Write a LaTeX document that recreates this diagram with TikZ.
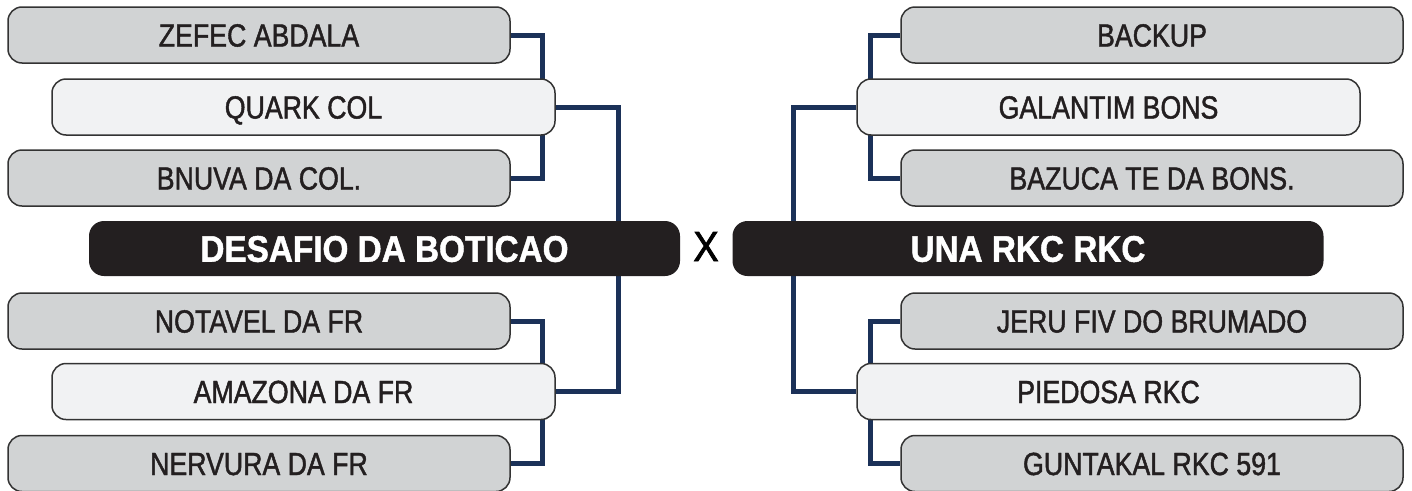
\documentclass[tikz,border=0pt]{standalone}
\usepackage{fontspec}
\setmainfont[FakeStretch=0.835, FakeBold=1.4]{Liberation Sans}
\newfontfamily\barfont[FakeStretch=0.9, FakeBold=1.2]{Liberation Sans Bold}
\newfontfamily\vsfont[FakeStretch=0.9, FakeBold=1.8]{Liberation Sans}
\usetikzlibrary{backgrounds}
\definecolor{boxgray}{HTML}{D1D3D4}
\definecolor{boxlight}{HTML}{F1F2F3}
\definecolor{boxline}{HTML}{333333}
\definecolor{ink}{HTML}{231F20}
\definecolor{barblack}{HTML}{231F20}
\definecolor{navy}{HTML}{1B3158}
\begin{document}
\begin{tikzpicture}[x=1pt,y=-1pt,
  box/.style={rounded corners=14pt, draw=boxline, line width=1.5pt, minimum width=502pt, minimum height=56pt, inner sep=0pt, text height=23pt, text depth=0pt, font=\fontsize{32}{34}\selectfont, text=ink},
  gbox/.style={box, fill=boxgray},
  lbox/.style={box, fill=boxlight, minimum width=503pt},
  teambar/.style={rounded corners=15pt, fill=barblack, minimum width=591pt, minimum height=55pt, inner sep=0pt, text=white, font=\barfont\fontsize{37}{38}\selectfont, text height=26.5pt, text depth=0pt},
  versus/.style={inner sep=0pt, text=black, font=\vsfont\fontsize{42}{42}\selectfont, text height=30pt, text depth=0pt},
  conn/.style={draw=navy, line width=5pt}
]
\useasboundingbox (0,0) rectangle (1412,490);
% left side
\node[gbox] (zef) at (259,35) {ZEFEC ABDALA};
\node[lbox] (qua) at (303.5,107) {QUARK COL};
\node[gbox] (bnu) at (259,178) {BNUVA DA COL.};
\node[teambar] (dbar) at (384.5,248.5) {DESAFIO DA BOTICAO};
\node[gbox] (nota) at (259,321) {NOTAVEL DA FR};
\node[lbox] (ama) at (303.5,391.5) {AMAZONA DA FR};
\node[gbox] (ner) at (259,463.5) {NERVURA DA FR};
% middle
\node[versus] (vs) at (706,246) {X};
% right side
\node[gbox] (bac) at (1152,35) {BACKUP};
\node[lbox] (gal) at (1108.5,107) {GALANTIM BONS};
\node[gbox] (baz) at (1152,178) {BAZUCA TE DA BONS.};
\node[teambar] (ubar) at (1028,248.5) {UNA RKC RKC};
\node[gbox] (jer) at (1152,321) {JERU FIV DO BRUMADO};
\node[lbox] (pie) at (1108.5,391.5) {PIEDOSA RKC};
\node[gbox] (gun) at (1152,463.5) {GUNTAKAL RKC 591};
\begin{scope}[on background layer]
\fill[white] (0,0) rectangle (1412,490);
\draw[conn] (zef.east) -- ++(32,0) |- (bnu.east);
\draw[conn] (qua.east) -- ++(63,0) |- (ama.east);
\draw[conn] (nota.east) -- ++(32,0) |- (ner.east);
\draw[conn] (bac.west) -- ++(-30,0) |- (baz.west);
\draw[conn] (gal.west) -- ++(-63,0) |- (pie.west);
\draw[conn] (jer.west) -- ++(-30,0) |- (gun.west);
\end{scope}
\end{tikzpicture}
\end{document}
